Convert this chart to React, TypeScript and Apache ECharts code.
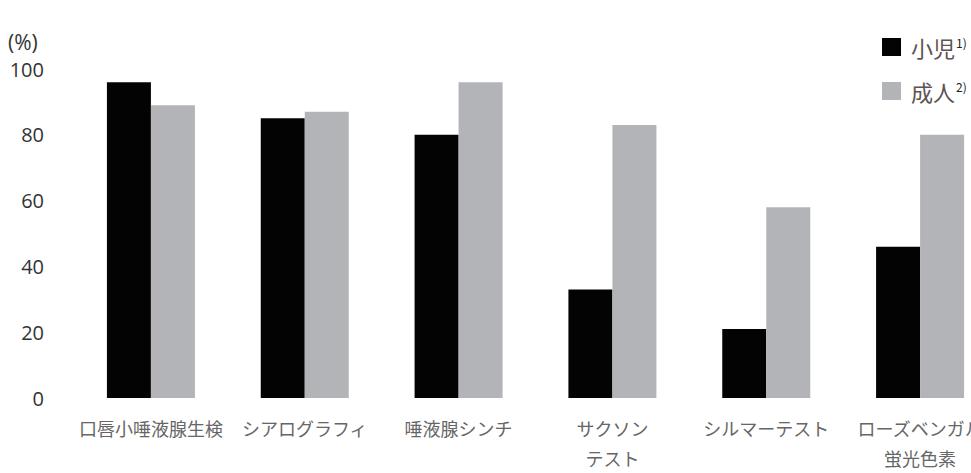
import React, { useEffect, useRef } from "react";
import * as echarts from "echarts";

const categories = [
  "口唇小唾液腺生検",
  "シアログラフィ",
  "唾液腺シンチ",
  "サクソン\nテスト",
  "シルマーテスト",
  "ローズベンガル\n蛍光色素",
];
const childValues = [96, 85, 80, 33, 21, 46];
const adultValues = [89, 87, 96, 83, 58, 80];
const seriesNames = ["小児", "成人"];
const seriesNotes = ["1)", "2)"];
const yTicks = { min: 0, max: 100, interval: 20 };

export default function App() {
  const ref = useRef<HTMLDivElement>(null);
  useEffect(() => {
    if (!ref.current) return;
    const chart = echarts.init(ref.current, null, { renderer: "svg" });
    chart.setOption({
      animation: false,
      backgroundColor: "#ffffff",
      grid: { left: 74, right: 0, top: 69, bottom: 69, containLabel: false },
      legend: {
        orient: "vertical",
        left: 877,
        top: 31,
        itemWidth: 19,
        itemHeight: 18,
        itemGap: 22,
        icon: "rect",
        data: seriesNames,
        formatter: (name: string) => {
          const i = seriesNames.indexOf(name);
          return name + "{sup|" + seriesNotes[i] + "}";
        },
        textStyle: {
          fontFamily: "Noto Sans CJK JP",
          fontSize: 22,
          color: "#5e5252",
          padding: [0, 0, 0, 5],
          rich: {
            sup: {
              fontFamily: "Noto Sans CJK JP",
              fontSize: 12,
              color: "#222",
              verticalAlign: "top",
              padding: [0, 0, 10, 1],
            },
          },
        },
      },
      graphic: [
        {
          type: "text",
          left: 8,
          top: 31,
          style: {
            text: "(%)",
            fontFamily: "Open Sans",
            fontSize: 21,
            fill: "#333",
          },
        },
      ],
      xAxis: {
        type: "category",
        data: categories,
        axisLine: { show: false },
        axisTick: { show: false },
        axisLabel: {
          interval: 0,
          margin: 15,
          fontFamily: "Noto Sans CJK JP",
          fontSize: 18,
          lineHeight: 30,
          color: "#666",
        },
      },
      yAxis: {
        type: "value",
        min: yTicks.min,
        max: yTicks.max,
        interval: yTicks.interval,
        axisLine: { show: false },
        axisTick: { show: false },
        splitLine: { show: false },
        axisLabel: {
          margin: 30,
          fontFamily: "Open Sans",
          fontSize: 20,
          color: "#333",
        },
      },
      series: [
        {
          name: seriesNames[0],
          type: "bar",
          data: childValues,
          barWidth: 44,
          barGap: "0%",
          itemStyle: { color: "#030303" },
        },
        {
          name: seriesNames[1],
          type: "bar",
          data: adultValues,
          barWidth: 44,
          barGap: "0%",
          itemStyle: { color: "#b3b4b8" },
        },
      ],
    });
    return () => chart.dispose();
  }, []);
  return (
    <div
      style={{
        position: "fixed",
        left: 0,
        top: 0,
        width: 971,
        height: 473,
        overflow: "hidden",
        background: "#fff",
      }}
    >
      <div ref={ref} style={{ width: 997, height: 473 }} />
    </div>
  );
}
